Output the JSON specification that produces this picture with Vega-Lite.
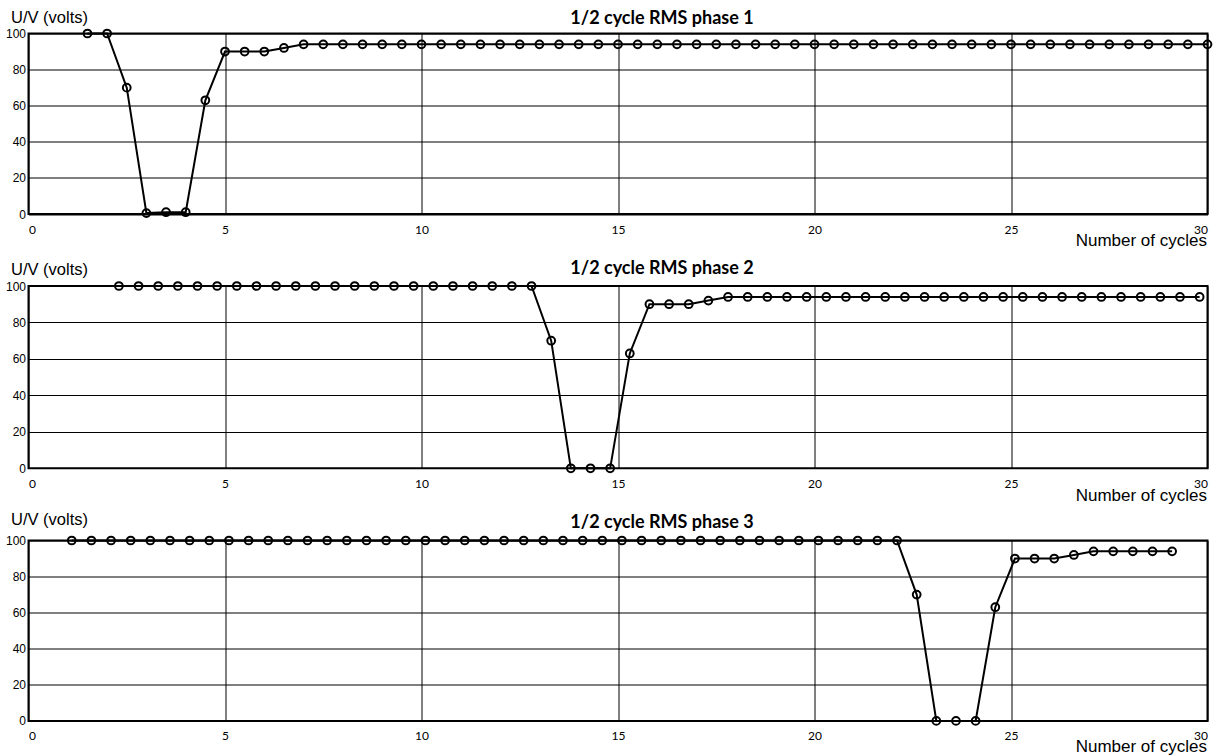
{
  "$schema": "https://vega.github.io/schema/vega-lite/v6.json",
  "background": "white",
  "padding": {"left": 3.5, "top": 8.5, "right": 4, "bottom": 4},
  "datasets": {
    "phase1": [
      {"cycle": 1.5, "volts": 100}, {"cycle": 2.0, "volts": 100}, {"cycle": 2.5, "volts": 70},
      {"cycle": 3.0, "volts": 0.5}, {"cycle": 3.5, "volts": 1}, {"cycle": 4.0, "volts": 1},
      {"cycle": 4.5, "volts": 63}, {"cycle": 5.0, "volts": 90}, {"cycle": 5.5, "volts": 90},
      {"cycle": 6.0, "volts": 90}, {"cycle": 6.5, "volts": 92}, {"cycle": 7.0, "volts": 94},
      {"cycle": 7.5, "volts": 94}, {"cycle": 8.0, "volts": 94}, {"cycle": 8.5, "volts": 94},
      {"cycle": 9.0, "volts": 94}, {"cycle": 9.5, "volts": 94}, {"cycle": 10.0, "volts": 94},
      {"cycle": 10.5, "volts": 94}, {"cycle": 11.0, "volts": 94}, {"cycle": 11.5, "volts": 94},
      {"cycle": 12.0, "volts": 94}, {"cycle": 12.5, "volts": 94}, {"cycle": 13.0, "volts": 94},
      {"cycle": 13.5, "volts": 94}, {"cycle": 14.0, "volts": 94}, {"cycle": 14.5, "volts": 94},
      {"cycle": 15.0, "volts": 94}, {"cycle": 15.5, "volts": 94}, {"cycle": 16.0, "volts": 94},
      {"cycle": 16.5, "volts": 94}, {"cycle": 17.0, "volts": 94}, {"cycle": 17.5, "volts": 94},
      {"cycle": 18.0, "volts": 94}, {"cycle": 18.5, "volts": 94}, {"cycle": 19.0, "volts": 94},
      {"cycle": 19.5, "volts": 94}, {"cycle": 20.0, "volts": 94}, {"cycle": 20.5, "volts": 94},
      {"cycle": 21.0, "volts": 94}, {"cycle": 21.5, "volts": 94}, {"cycle": 22.0, "volts": 94},
      {"cycle": 22.5, "volts": 94}, {"cycle": 23.0, "volts": 94}, {"cycle": 23.5, "volts": 94},
      {"cycle": 24.0, "volts": 94}, {"cycle": 24.5, "volts": 94}, {"cycle": 25.0, "volts": 94},
      {"cycle": 25.5, "volts": 94}, {"cycle": 26.0, "volts": 94}, {"cycle": 26.5, "volts": 94},
      {"cycle": 27.0, "volts": 94}, {"cycle": 27.5, "volts": 94}, {"cycle": 28.0, "volts": 94},
      {"cycle": 28.5, "volts": 94}, {"cycle": 29.0, "volts": 94}, {"cycle": 29.5, "volts": 94},
      {"cycle": 30.0, "volts": 94}
    ],
    "phase2": [
      {"cycle": 2.3, "volts": 100}, {"cycle": 2.8, "volts": 100}, {"cycle": 3.3, "volts": 100},
      {"cycle": 3.8, "volts": 100}, {"cycle": 4.3, "volts": 100}, {"cycle": 4.8, "volts": 100},
      {"cycle": 5.3, "volts": 100}, {"cycle": 5.8, "volts": 100}, {"cycle": 6.3, "volts": 100},
      {"cycle": 6.8, "volts": 100}, {"cycle": 7.3, "volts": 100}, {"cycle": 7.8, "volts": 100},
      {"cycle": 8.3, "volts": 100}, {"cycle": 8.8, "volts": 100}, {"cycle": 9.3, "volts": 100},
      {"cycle": 9.8, "volts": 100}, {"cycle": 10.3, "volts": 100}, {"cycle": 10.8, "volts": 100},
      {"cycle": 11.3, "volts": 100}, {"cycle": 11.8, "volts": 100}, {"cycle": 12.3, "volts": 100},
      {"cycle": 12.8, "volts": 100}, {"cycle": 13.3, "volts": 70}, {"cycle": 13.8, "volts": 0},
      {"cycle": 14.3, "volts": 0}, {"cycle": 14.8, "volts": 0}, {"cycle": 15.3, "volts": 63},
      {"cycle": 15.8, "volts": 90}, {"cycle": 16.3, "volts": 90}, {"cycle": 16.8, "volts": 90},
      {"cycle": 17.3, "volts": 92}, {"cycle": 17.8, "volts": 94}, {"cycle": 18.3, "volts": 94},
      {"cycle": 18.8, "volts": 94}, {"cycle": 19.3, "volts": 94}, {"cycle": 19.8, "volts": 94},
      {"cycle": 20.3, "volts": 94}, {"cycle": 20.8, "volts": 94}, {"cycle": 21.3, "volts": 94},
      {"cycle": 21.8, "volts": 94}, {"cycle": 22.3, "volts": 94}, {"cycle": 22.8, "volts": 94},
      {"cycle": 23.3, "volts": 94}, {"cycle": 23.8, "volts": 94}, {"cycle": 24.3, "volts": 94},
      {"cycle": 24.8, "volts": 94}, {"cycle": 25.3, "volts": 94}, {"cycle": 25.8, "volts": 94},
      {"cycle": 26.3, "volts": 94}, {"cycle": 26.8, "volts": 94}, {"cycle": 27.3, "volts": 94},
      {"cycle": 27.8, "volts": 94}, {"cycle": 28.3, "volts": 94}, {"cycle": 28.8, "volts": 94},
      {"cycle": 29.3, "volts": 94}, {"cycle": 29.8, "volts": 94}
    ],
    "phase3": [
      {"cycle": 1.1, "volts": 100}, {"cycle": 1.6, "volts": 100}, {"cycle": 2.1, "volts": 100},
      {"cycle": 2.6, "volts": 100}, {"cycle": 3.1, "volts": 100}, {"cycle": 3.6, "volts": 100},
      {"cycle": 4.1, "volts": 100}, {"cycle": 4.6, "volts": 100}, {"cycle": 5.1, "volts": 100},
      {"cycle": 5.6, "volts": 100}, {"cycle": 6.1, "volts": 100}, {"cycle": 6.6, "volts": 100},
      {"cycle": 7.1, "volts": 100}, {"cycle": 7.6, "volts": 100}, {"cycle": 8.1, "volts": 100},
      {"cycle": 8.6, "volts": 100}, {"cycle": 9.1, "volts": 100}, {"cycle": 9.6, "volts": 100},
      {"cycle": 10.1, "volts": 100}, {"cycle": 10.6, "volts": 100}, {"cycle": 11.1, "volts": 100},
      {"cycle": 11.6, "volts": 100}, {"cycle": 12.1, "volts": 100}, {"cycle": 12.6, "volts": 100},
      {"cycle": 13.1, "volts": 100}, {"cycle": 13.6, "volts": 100}, {"cycle": 14.1, "volts": 100},
      {"cycle": 14.6, "volts": 100}, {"cycle": 15.1, "volts": 100}, {"cycle": 15.6, "volts": 100},
      {"cycle": 16.1, "volts": 100}, {"cycle": 16.6, "volts": 100}, {"cycle": 17.1, "volts": 100},
      {"cycle": 17.6, "volts": 100}, {"cycle": 18.1, "volts": 100}, {"cycle": 18.6, "volts": 100},
      {"cycle": 19.1, "volts": 100}, {"cycle": 19.6, "volts": 100}, {"cycle": 20.1, "volts": 100},
      {"cycle": 20.6, "volts": 100}, {"cycle": 21.1, "volts": 100}, {"cycle": 21.6, "volts": 100},
      {"cycle": 22.1, "volts": 100}, {"cycle": 22.6, "volts": 70}, {"cycle": 23.1, "volts": 0},
      {"cycle": 23.6, "volts": 0}, {"cycle": 24.1, "volts": 0}, {"cycle": 24.6, "volts": 63},
      {"cycle": 25.1, "volts": 90}, {"cycle": 25.6, "volts": 90}, {"cycle": 26.1, "volts": 90},
      {"cycle": 26.6, "volts": 92}, {"cycle": 27.1, "volts": 94}, {"cycle": 27.6, "volts": 94},
      {"cycle": 28.1, "volts": 94}, {"cycle": 28.6, "volts": 94}, {"cycle": 29.1, "volts": 94}
    ]
  },
  "bounds": "flush",
  "spacing": 71.5,
  "config": {
    "view": {"stroke": "black", "strokeWidth": 2},
    "axis": {
      "grid": true, "gridColor": "black", "gridWidth": 1, "gridOpacity": 1,
      "ticks": false, "domain": false, "labelColor": "black", "titleColor": "black"
    },
    "axisX": {
      "labelFont": "Lato", "labelFontSize": 12, "labelPadding": 10,
      "titleFont": "Liberation Sans", "titleFontSize": 17, "titleFontWeight": "normal",
      "titleAnchor": "end", "titleAlign": "right", "titleBaseline": "alphabetic",
      "titleX": 1178, "titleY": 31
    },
    "axisY": {
      "labelFont": "Liberation Sans", "labelFontSize": 12, "labelPadding": 3,
      "titleFont": "Liberation Sans", "titleFontSize": 16.5, "titleFontWeight": "normal",
      "titleAngle": 0, "titleAlign": "left", "titleBaseline": "alphabetic",
      "titleX": -18
    },
    "title": {
      "font": "Lato", "fontSize": 18, "fontWeight": "bold", "color": "black",
      "anchor": "middle", "frame": "group", "dx": 44, "baseline": "bottom"
    }
  },
  "vconcat": [
    {
      "width": 1179, "height": 180.5,
      "title": {"text": "1/2 cycle RMS phase 1", "offset": -18},
      "data": {"name": "phase1"},
      "mark": {"type": "line", "color": "black", "strokeWidth": 2,
               "point": {"filled": false, "size": 60, "strokeWidth": 2, "color": "black"}},
      "encoding": {
        "x": {"field": "cycle", "type": "quantitative",
              "scale": {"domain": [0, 30], "nice": false, "zero": false},
              "axis": {"values": [0, 5, 10, 15, 20, 25, 30], "title": "Number of cycles"}},
        "y": {"field": "volts", "type": "quantitative",
              "scale": {"domain": [0, 100], "nice": false},
              "axis": {"values": [0, 20, 40, 60, 80, 100], "title": "U/V (volts)", "titleY": -11}}
      }
    },
    {
      "width": 1179, "height": 182.3,
      "title": {"text": "1/2 cycle RMS phase 2", "offset": -17},
      "data": {"name": "phase2"},
      "mark": {"type": "line", "color": "black", "strokeWidth": 2,
               "point": {"filled": false, "size": 60, "strokeWidth": 2, "color": "black"}},
      "encoding": {
        "x": {"field": "cycle", "type": "quantitative",
              "scale": {"domain": [0, 30], "nice": false, "zero": false},
              "axis": {"values": [0, 5, 10, 15, 20, 25, 30], "title": "Number of cycles", "titleY": 32.5}},
        "y": {"field": "volts", "type": "quantitative",
              "scale": {"domain": [0, 100], "nice": false},
              "axis": {"values": [0, 20, 40, 60, 80, 100], "title": "U/V (volts)", "titleY": -12}}
      }
    },
    {
      "width": 1179, "height": 180.4,
      "title": {"text": "1/2 cycle RMS phase 3", "offset": -20.5},
      "data": {"name": "phase3"},
      "mark": {"type": "line", "color": "black", "strokeWidth": 2,
               "point": {"filled": false, "size": 60, "strokeWidth": 2, "color": "black"}},
      "encoding": {
        "x": {"field": "cycle", "type": "quantitative",
              "scale": {"domain": [0, 30], "nice": false, "zero": false},
              "axis": {"values": [0, 5, 10, 15, 20, 25, 30], "title": "Number of cycles"}},
        "y": {"field": "volts", "type": "quantitative",
              "scale": {"domain": [0, 100], "nice": false},
              "axis": {"values": [0, 20, 40, 60, 80, 100], "title": "U/V (volts)", "titleY": -16.5}}
      }
    }
  ]
}
